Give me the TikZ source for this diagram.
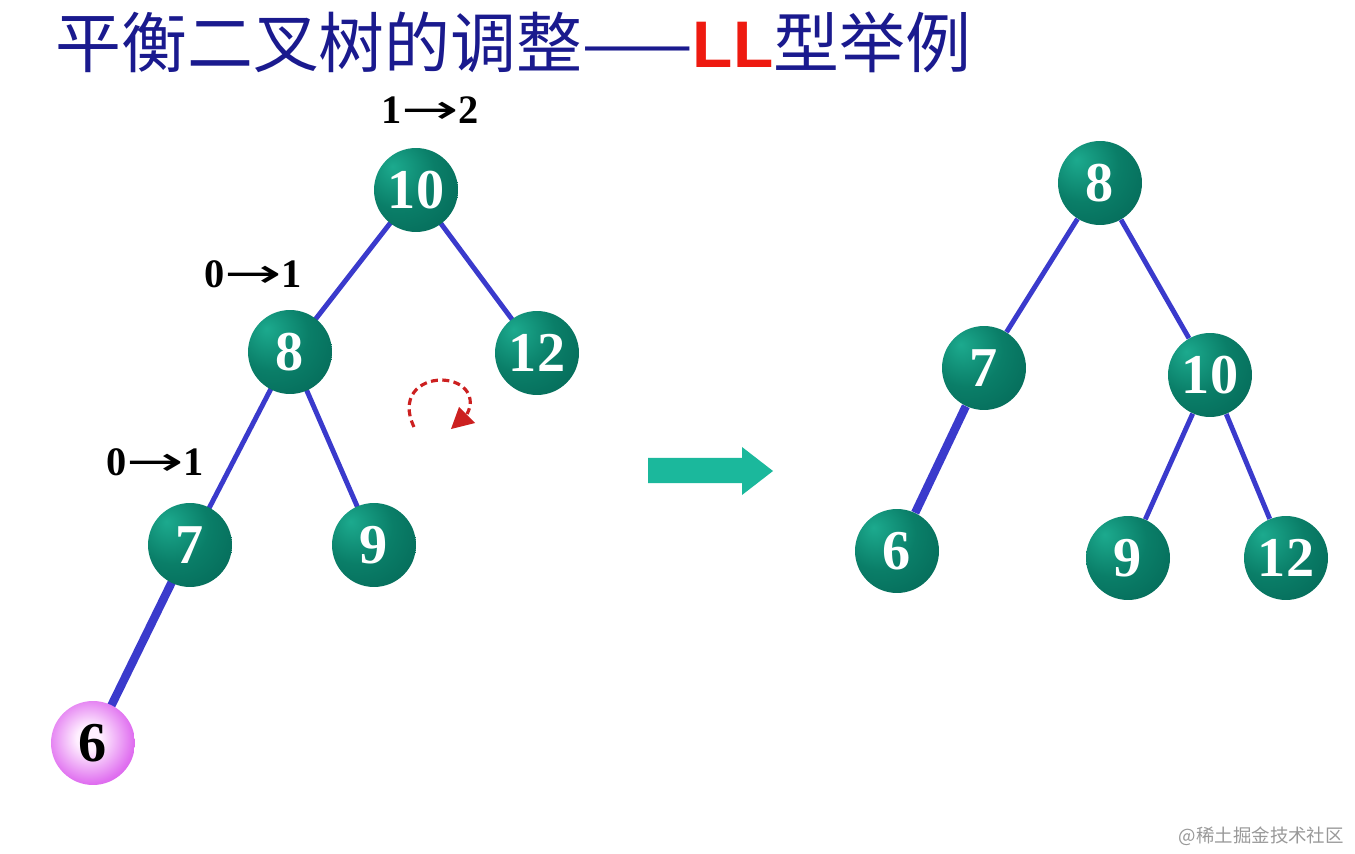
\documentclass[tikz,border=0pt]{standalone}
\usepackage{fontspec}
\usepackage{graphicx}
\setmainfont{Liberation Serif}
\newfontfamily\cjk{Noto Sans CJK SC}
\newfontfamily\arial{Liberation Sans}
\newfontfamily\arrowfont{DejaVu Sans}
\usetikzlibrary{arrows.meta}
\definecolor{titleblue}{HTML}{1A1A8E}
\definecolor{llred}{HTML}{EE1A10}
\definecolor{edgeblue}{HTML}{3A3ACC}
\definecolor{gl}{HTML}{1CAA8E}
\definecolor{gm}{HTML}{0A7E68}
\definecolor{gd}{HTML}{00574A}
\definecolor{pw}{HTML}{FFF0FF}
\definecolor{pl}{HTML}{E070F0}
\definecolor{pd}{HTML}{B222CA}
\definecolor{turnred}{HTML}{CC2020}
\definecolor{bigarrow}{HTML}{1BB89C}
\pgfdeclareradialshading{greenball}{\pgfpoint{-14bp}{14bp}}{color(0bp)=(gl); color(22bp)=(gm); color(62bp)=(gd); color(100bp)=(gd)}
\pgfdeclareradialshading{pinkball}{\pgfpoint{-3bp}{3bp}}{color(0bp)=(pw); color(7bp)=(pw); color(26bp)=(pl); color(50bp)=(pd); color(100bp)=(pd)}
\tikzset{
  ball/.style={circle, minimum size=1.68cm, inner sep=0pt, shading=greenball,
    text=white, font=\bfseries\fontsize{32}{32}\selectfont},
  newball/.style={ball, shading=pinkball, text=black},
  bf/.style={font=\bfseries\fontsize{23}{23}\selectfont},
  link/.style={edgeblue, line width=2.8pt},
  fatlink/.style={edgeblue, line width=4.8pt}
}
\newcommand{\chg}{\scalebox{1.7}[1]{\arrowfont\mdseries →}}
\begin{document}
\begin{tikzpicture}[x=0.02cm, y=-0.02cm]
\useasboundingbox (0,0) rectangle (1355,854);
\node[anchor=west, inner sep=0pt, text=titleblue, font=\fontsize{37.5}{37.5}\selectfont] (title) at (55,42)
  {\cjk 平衡二叉树的调整——\textcolor{llred}{\arial\bfseries LL}型举例};
% before: LL rotation needed at 10
\draw[link] (416,190) -- (290,352);
\draw[link] (416,190) -- (537,353);
\draw[link] (290,352) -- (190,545);
\draw[link] (290,352) -- (374,545);
\draw[fatlink] (190,545) -- (93,743);
\node[ball] (a10) at (416,190) {10};
\node[ball] (a8) at (290,352) {8};
\node[ball] (a12) at (537,353) {12};
\node[ball] (a7) at (190,545) {7};
\node[ball] (a9) at (374,545) {9};
\node[newball] (a6) at (93,743) {6};
\node[bf] (bal10) at (430,110) {1\chg2};
\node[bf] (bal8) at (253,274) {0\chg1};
\node[bf] (bal7) at (155,462) {0\chg1};
\draw[turnred, line width=1.8pt, dash pattern=on 4pt off 2.5pt]
  (414,427) .. controls (400,398) and (418,380) .. (442,380)
  .. controls (466,381) and (476,398) .. (467,414);
\fill[turnred] (459,407) -- (475,423) -- (451,429) -- cycle;
\fill[bigarrow] (648,458) -- (742,458) -- (742,447) -- (773,471) -- (742,495) -- (742,483) -- (648,483) -- cycle;
% after
\node[ball] (b8) at (1100,183) {8};
\node[ball] (b7) at (984,368) {7};
\node[ball] (b10) at (1210,375) {10};
\node[ball] (b6) at (897,551) {6};
\node[ball] (b9) at (1128,558) {9};
\node[ball] (b12) at (1286,558) {12};
\draw[link] (b8) -- (b7);
\draw[link] (b8) -- (b10);
\draw[fatlink] (b7) -- (b6);
\draw[link] (b10) -- (b9);
\draw[link] (b10) -- (b12);
\node[anchor=east, text=black!40, font=\cjk\fontsize{10.5}{10.5}\selectfont] (mark) at (1350,836) {@稀土掘金技术社区};
\end{tikzpicture}
\end{document}
